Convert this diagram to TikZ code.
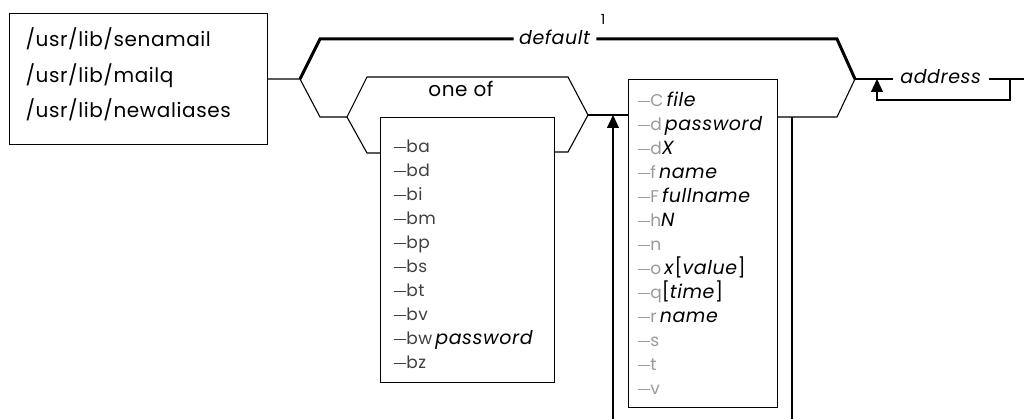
\documentclass[tikz,border=0pt]{standalone}
\usepackage{fontspec}
\setmainfont{Poppins}[LetterSpace=3]
\usetikzlibrary{arrows.meta}
\definecolor{faint}{gray}{0.6}
\definecolor{midgray}{gray}{0.25}
\newcommand\flagdash{\rule[0.27em]{0.75em}{0.06em}}
\newcommand\bflag[1]{{\fontsize{17pt}{17pt}\selectfont\color{midgray}\flagdash#1}}
\newcommand\oflag[1]{{\fontsize{17pt}{17pt}\selectfont\color{faint}\flagdash#1}}
\newcommand\va[1]{\textit{#1}}
\begin{document}
\begin{tikzpicture}[x=1pt,y=-1pt,line width=1.1pt,
  every node/.style={inner sep=0pt,font=\fontsize{19pt}{19pt}\selectfont},
  boxframe/.style={draw,rectangle,anchor=north west},
  rowtext/.style={anchor=base west},
  boldline/.style={line width=3pt},
  uparrow/.style={-{Triangle[width=12pt,length=13pt]}}]
\useasboundingbox (0,0) rectangle (1026,419);

% boxes
\node[boxframe,minimum width=258pt,minimum height=131pt] (cmds) at (9,13) {};
\node[boxframe,minimum width=174pt,minimum height=265pt] (bbox) at (380,117) {};
\node[boxframe,minimum width=149pt,minimum height=328pt] (obox) at (628,79) {};

% left box text
\node[rowtext,font=\fontsize{20pt}{20pt}\selectfont] (c1) at (25,47) {/usr/lib/senamail};
\node[rowtext,font=\fontsize{20pt}{20pt}\selectfont] (c2) at (25,83) {/usr/lib/mailq};
\node[rowtext,font=\fontsize{20pt}{20pt}\selectfont] (c3) at (25,118) {/usr/lib/newaliases};

% labels
\node[anchor=base,font=\fontsize{20pt}{20pt}\selectfont] (oneof) at (461,97) {one of};
\node[anchor=base,inner xsep=5pt] (default) at (555,45) {\va{default}};
\node[anchor=base,font=\fontsize{14pt}{14pt}\selectfont] (sup) at (603,25) {1};
\node[anchor=base,inner xsep=7pt] (address) at (941,84) {\va{address}};

% -b options
\node[rowtext] (b0) at (393,153) {\bflag{ba}};
\node[rowtext] (b1) at (393,177) {\bflag{bd}};
\node[rowtext] (b2) at (393,201) {\bflag{bi}};
\node[rowtext] (b3) at (393,225) {\bflag{bm}};
\node[rowtext] (b4) at (393,249) {\bflag{bp}};
\node[rowtext] (b5) at (393,273) {\bflag{bs}};
\node[rowtext] (b6) at (393,297) {\bflag{bt}};
\node[rowtext] (b7) at (393,321) {\bflag{bv}};
\node[rowtext] (b8) at (393,345) {\bflag{bw}\,\va{password}};
\node[rowtext] (b9) at (393,369) {\bflag{bz}};

% other options
\node[rowtext] (o0) at (637,107) {\oflag{C}\,\va{file}};
\node[rowtext] (o1) at (637,131) {\oflag{d}\,\va{password}};
\node[rowtext] (o2) at (637,155) {\oflag{d}\va{X}};
\node[rowtext] (o3) at (637,179) {\oflag{f}\,\va{name}};
\node[rowtext] (o4) at (637,203) {\oflag{F}\,\va{fullname}};
\node[rowtext] (o5) at (637,227) {\oflag{h}\va{N}};
\node[rowtext] (o6) at (637,251) {\oflag{n}};
\node[rowtext] (o7) at (637,275) {\oflag{o}\,\va{x}[\va{value}]};
\node[rowtext] (o8) at (637,299) {\oflag{q}[\va{time}]};
\node[rowtext] (o9) at (637,323) {\oflag{r}\,\va{name}};
\node[rowtext] (o10) at (637,347) {\oflag{s}};
\node[rowtext] (o11) at (637,371) {\oflag{t}};
\node[rowtext] (o12) at (637,395) {\oflag{v}};

% geometry points
\coordinate (vL) at (300,79);
\coordinate (oTL) at (320,39);
\coordinate (oBL) at (320,117);
\coordinate (iL) at (347,117);
\coordinate (iTL) at (367,77);
\coordinate (iBL) at (367,153);
\coordinate (iTR) at (568,77);
\coordinate (iR) at (588,115);
\coordinate (iBR) at (568,152);
\coordinate (oTR) at (837,39);
\coordinate (oBR) at (837,117);
\coordinate (vR) at (855,79);
\coordinate (aLb) at (613,419);
\coordinate (aRb) at (792,419);
\coordinate (loopR) at (1010,100);
\coordinate (loopL) at (877,100);
\coordinate (rEnd) at (1024,79);

% connectors
\draw (cmds.east |- vL) -- (vL) -- (oBL) -- (iL);
\draw (iBL -| bbox.west) -- (iBL) -- (iL) -- (iTL) -- (iTR) -- (iR) -- (iBR) -- (iBR -| bbox.east);
\draw (iR) -- (iR -| obox.west);
\draw (obox.east |- oBR) -- (oBR) -- (vR);
\draw[boldline] (vL) -- (oTL) -- (default.west |- oTL);
\draw[boldline] (default.east |- oTR) -- (oTR) -- (vR);
\draw (vR) -- (address.west |- vR);
\draw (address.east |- vR) -- (rEnd);
\draw[uparrow] (loopR |- vR) -- (loopR) -- (loopL) -- (loopL |- vR);
\draw[uparrow] (aLb) -- (aLb |- iR);
\draw (aRb) -- (aRb |- oBR);
\end{tikzpicture}
\end{document}
